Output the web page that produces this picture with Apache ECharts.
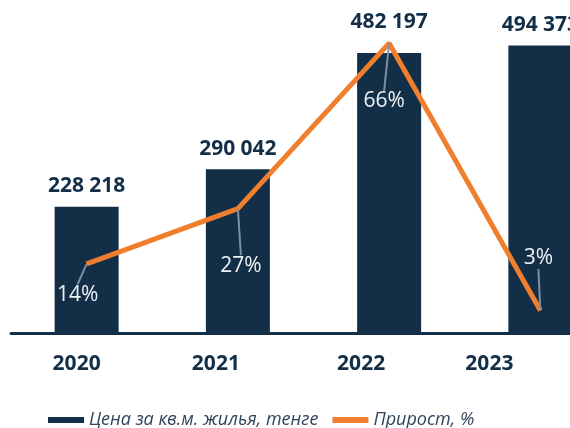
<!DOCTYPE html>
<html>
<head>
<meta charset="utf-8">
<script src="https://cdn.jsdelivr.net/npm/echarts@6/dist/echarts.min.js"></script>
<style>
  html, body { margin: 0; padding: 0; background: #fff; }
  #chart { width: 570px; height: 428px; }
</style>
</head>
<body>
<div id="chart"></div>
<script>
const years = ['2020', '2021', '2022', '2023'];
const price = [228218, 290042, 482197, 494373];
const growth = [14, 27, 66, 3];

const navy = '#132f48';
const orange = '#ef7f2d';

// labels in the picture sit a bit left of the bars
const yearStyle = ['y0', 'y1', 'y2', 'y3'];
const yearShift = [10, 22, 28, 51];
const rich = {};
yearStyle.forEach((k, i) => {
  rich[k] = {
    fontFamily: 'Open Sans', fontWeight: 'bold', fontSize: 21, color: navy,
    padding: [0, yearShift[i] * 2, 0, 0]
  };
});

// where each percent label goes relative to its point
const pctMove = [[-9, 31], [3, 57], [-5, 58], [-2, -52]];

var mychart = echarts.init(document.getElementById('chart'));
mychart.setOption({
  animation: false,
  grid: { left: 11, width: 605, top: 33, bottom: 95, outerBoundsMode: 'none', containLabel: false },
  legend: {
    left: 43, top: 406,
    itemWidth: 36, itemHeight: 6, itemGap: 14,
    textStyle: { fontFamily: 'Open Sans', fontStyle: 'italic', fontSize: 18, color: '#2e455c' },
    data: [
      { name: 'Цена за кв.м. жилья, тенге', icon: 'rect' },
      { name: 'Прирост, %', icon: 'rect' }
    ]
  },
  xAxis: {
    type: 'category',
    data: years,
    axisLine: { onZero: false, lineStyle: { color: navy, width: 3 } },
    axisTick: { show: false },
    axisLabel: {
      margin: 21,
      formatter: (v) => `{${yearStyle[years.indexOf(v)]}|${v}}`,
      rich: rich
    }
  },
  yAxis: [
    { type: 'value', min: 20000, max: 515000, show: false, splitLine: { show: false } },
    { type: 'value', min: -2.3, max: 68.4, show: false, splitLine: { show: false } }
  ],
  series: [
    {
      name: 'Цена за кв.м. жилья, тенге',
      type: 'bar',
      barWidth: 64,
      itemStyle: { color: navy },
      label: {
        show: true, position: 'top', distance: 10,
        fontFamily: 'Open Sans', fontWeight: 'bold', fontSize: 21, color: navy,
        formatter: (p) => String(p.value).replace(/\B(?=(\d{3})+(?!\d))/g, ' ')
      },
      data: price.map((v, i) => i === 2 ? { value: v, label: { distance: 20 } } : v)
    },
    {
      name: 'Прирост, %',
      type: 'line',
      yAxisIndex: 1,
      symbol: 'circle',
      symbolSize: 1,
      lineStyle: { color: orange, width: 5 },
      itemStyle: { color: orange },
      label: {
        show: true, position: 'inside',
        fontFamily: 'Open Sans', fontSize: 21, color: '#eef2f5',
        formatter: '{c}%'
      },
      labelLine: { show: true, lineStyle: { color: '#7d8fa1', width: 2 } },
      labelLayout: (p) => ({ dx: pctMove[p.dataIndex][0], dy: pctMove[p.dataIndex][1] }),
      data: growth
    }
  ]
});
</script>
</body>
</html>
